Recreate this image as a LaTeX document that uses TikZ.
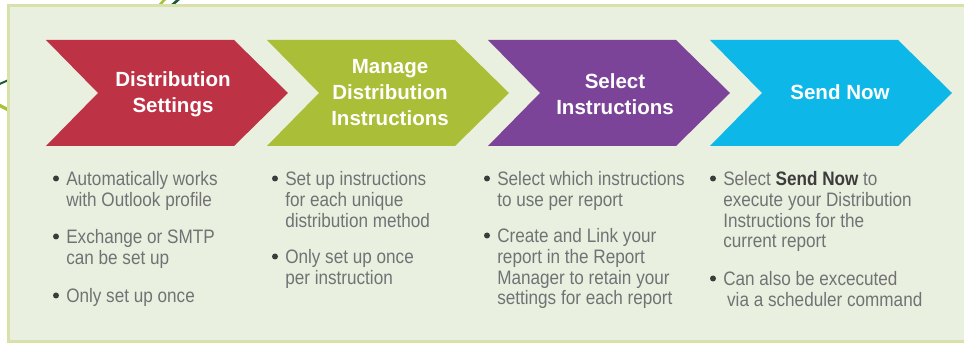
\documentclass[tikz,border=0pt]{standalone}
\usepackage{fontspec}
\setmainfont{Liberation Sans}
\newfontfamily\condfont[FakeStretch=0.88]{Liberation Sans}
\usepackage{tikz}
\usetikzlibrary{calc}
\definecolor{panelfill}{HTML}{EAF0DF}
\definecolor{panelline}{HTML}{D8E1A9}
\definecolor{stepred}{HTML}{BE3246}
\definecolor{stepgreen}{HTML}{AABE38}
\definecolor{steppurple}{HTML}{7B4498}
\definecolor{stepblue}{HTML}{0DB7E8}
\definecolor{itemgray}{HTML}{717275}
\definecolor{bulletgray}{HTML}{3C3C3C}
\definecolor{swirldark}{HTML}{1E5A3A}
\definecolor{swirllight}{HTML}{A9C23A}
\tikzset{
	steptitle/.style={text=white, font=\bfseries\fontsize{15.4}{19.5}\selectfont, align=center, inner sep=0pt},
	itemtext/.style={text=itemgray, font=\condfont\fontsize{14.6}{15.4}\selectfont, align=left, anchor=base west, inner sep=0pt}
}
% chevron: left middle point, 242 wide, 106 high
\def\chevron[#1](#2){\fill[#1] (#2) ++(0,-53) -- ++(188,0) -- ++(54,53) -- ++(-54,53) -- ++(-188,0) -- ++(52,-53) -- cycle;}
% bullet item: base of first line, number of lines, name, text
\def\bitem(#1,#2)[#3]#4#5{\fill[bulletgray] (#1-10,#2-7.5) circle (3); \node[itemtext] (#4) at (#1,{#2+(#3-1)*20.53}) {#5};}

\begin{document}
\begin{tikzpicture}[x={(0.75pt,0pt)}, y={(0pt,-0.75pt)}]
		%%%%% START %%%%%
		\useasboundingbox (0,0) rectangle (964,345);
		\clip (0,0) rectangle (964,345);
		
		% swirl behind the panel
		\draw[swirldark, line width=1.5pt] (-5,86) -- (20,75);
		\draw[swirllight, line width=2.5pt] (-5,103) -- (20,116);
		\draw[swirllight, line width=2pt] (157,8) -- (166,-2);
		\draw[swirldark, line width=2pt] (169,8) -- (180,-2);
		
		\draw[panelline, fill=panelfill, line width=2pt] (8.5,5.5) rectangle (975,341.5);
		
		\chevron[stepred](46,93)
		\chevron[stepgreen](267,93)
		\chevron[steppurple](488,93)
		\chevron[stepblue](710,93)
		
		\node[steptitle] (settings) at (173,94) {Distribution\\Settings};
		\node[steptitle] (manage) at (390,93) {Manage\\Distribution\\Instructions};
		\node[steptitle] (select) at (615,94) {Select\\Instructions};
		\node[steptitle] (send) at (840,92) {Send Now};
		
		\bitem(66,186)[2]{outlook}{Automatically works\\with Outlook profile}
		\bitem(66,244)[2]{smtp}{Exchange or SMTP\\can be set up}
		\bitem(66,303)[1]{once}{Only set up once}
		
		\bitem(285,186)[3]{unique}{Set up instructions\\for each unique\\distribution method}
		\bitem(285,264)[2]{perinstr}{Only set up once\\per instruction}
		
		\bitem(497,186)[2]{perreport}{Select which instructions\\to use per report}
		\bitem(497,243)[4]{link}{Create and Link your\\report in the Report\\Manager to retain your\\settings for each report}
		
		\bitem(723,186)[4]{execute}{Select {\bfseries\color{bulletgray}Send Now} to\\execute your Distribution\\Instructions for the\\current report}
		\bitem(723,286)[2]{scheduler}{Can also be excecuted\\\hspace*{0.2em}via a scheduler command}
		%%%%% END %%%%%
\end{tikzpicture}
\end{document}
